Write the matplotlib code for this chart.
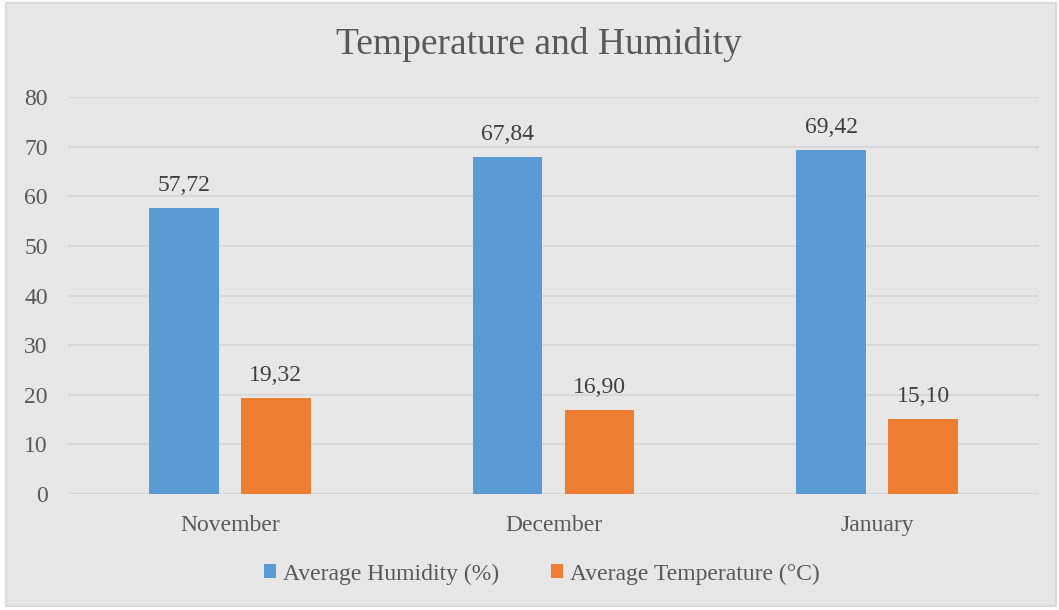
import numpy as np
import matplotlib.pyplot as plt
from matplotlib.patches import Rectangle

months = ['November', 'December', 'January']
humidity = [57.72, 67.84, 69.42]
temperature = [19.32, 16.90, 15.10]
series_names = ['Average Humidity (%)', 'Average Temperature (°C)']

plt.rcParams['font.family'] = ['Liberation Serif', 'DejaVu Serif']
text_color = '#595959'
bg = '#E7E7E7'

fig = plt.figure(figsize=(10.59, 6.10), dpi=100)
fig.patch.set_facecolor('white')
# chart frame, kept behind the axes
fig.patches.append(Rectangle((6 / 1059, 4 / 610), 1050 / 1059, 603 / 610,
                             transform=fig.transFigure, facecolor=bg,
                             edgecolor='#D9D9D9', linewidth=1.5, zorder=-10))

ax = fig.add_axes([68 / 1059, (610 - 494) / 610, (1039 - 68) / 1059, (494 - 97) / 610])
ax.set_facecolor(bg)

x = np.arange(len(months))
w = 0.216
off = 0.142
b1 = ax.bar(x - off, humidity, w, color='#5B9BD5', zorder=3, label=series_names[0])
b2 = ax.bar(x + off, temperature, w, color='#ED7D31', zorder=3, label=series_names[1])

for bars, vals in ((b1, humidity), (b2, temperature)):
    for r, v in zip(bars, vals):
        ax.text(r.get_x() + r.get_width() / 2, v + 2.4, f'{v:.2f}'.replace('.', ','),
                ha='center', va='bottom', fontsize=17, color='#404040')

ax.set_xlim(-0.5, 2.5)
ax.set_ylim(0, 80)
ax.set_yticks(range(0, 81, 10))
ax.set_xticks(x)
ax.set_xticklabels(months)
ax.tick_params(axis='both', length=0, labelsize=17, labelcolor=text_color)
ax.tick_params(axis='y', pad=14.5)
ax.tick_params(axis='x', pad=15)
ax.grid(axis='y', color='#D9D9D9', linewidth=1.5, zorder=0)
for s in ax.spines.values():
    s.set_visible(False)

fig.text(539 / 1059, 1 - 45 / 610, 'Temperature and Humidity', ha='center', va='center',
         fontsize=27, color=text_color)

fig.legend(handles=[b1, b2], loc='center', bbox_to_anchor=(542 / 1059, 1 - 574 / 610),
           ncol=2, frameon=False, fontsize=17, labelcolor=text_color,
           handlelength=0.5, handleheight=0.5, handletextpad=0.3, columnspacing=2.2)

fig.savefig('out.png', dpi=100, facecolor=fig.get_facecolor())
